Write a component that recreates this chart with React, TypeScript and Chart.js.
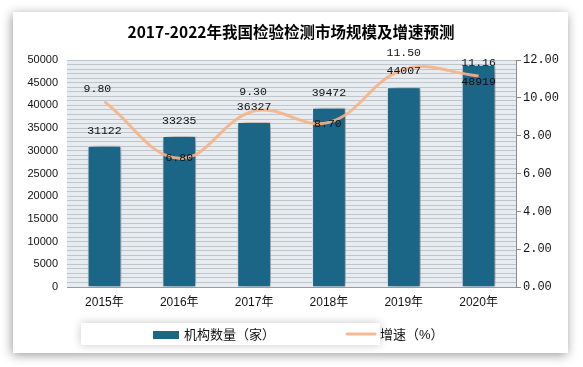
import React, { useEffect, useRef } from "react";
import { Chart, registerables } from "chart.js";

Chart.register(...registerables);

const title = "2017-2022年我国检验检测市场规模及增速预测";
const categories = ["2015年", "2016年", "2017年", "2018年", "2019年", "2020年"];
const institutions = [31122, 33235, 36327, 39472, 44007, 48919];
const growth = [9.8, 6.8, 9.3, 8.7, 11.5, 11.16];
const seriesNames = ["机构数量（家）", "增速（%）"];

// label placement (pixel offsets from the mark)
const barLabelDy = [-15, -15, -15, -15, -16, 17];
const lineLabelDy = [-13, 0, -19, 2, -17, -13];
const lineLabelDx = [-7, 0, -1, -1, 0, 0];

const BAR_COLOR = "#1b6587";
const LINE_COLOR = "rgba(246,178,134,0.9)";
const CJK = '"Liberation Sans", "Noto Sans CJK SC", sans-serif';
const MONO = '"Liberation Mono", "Noto Sans CJK SC", monospace';

const stripesPlugin = {
  id: "stripes",
  beforeDraw(chart: any) {
    const { ctx, chartArea: a } = chart;
    ctx.save();
    ctx.fillStyle = "#e7ecf1";
    ctx.fillRect(a.left, a.top, a.right - a.left, a.bottom - a.top);
    ctx.restore();
  },
};

const shadowPlugin = {
  id: "barShadow",
  beforeDatasetDraw(chart: any, args: any) {
    if (args.index !== 0) return;
    const ctx = chart.ctx;
    ctx.save();
    ctx.shadowColor = "rgba(0,0,0,0.55)";
    ctx.shadowBlur = 9;
    ctx.shadowOffsetX = 3;
    ctx.shadowOffsetY = 0;
  },
  afterDatasetDraw(chart: any, args: any) {
    if (args.index !== 0) return;
    chart.ctx.restore();
  },
};

const labelsPlugin = {
  id: "valueLabels",
  afterDatasetsDraw(chart: any) {
    const ctx = chart.ctx;
    ctx.save();
    ctx.font = `11.5px ${MONO}`;
    ctx.fillStyle = "#111";
    ctx.textAlign = "center";
    ctx.textBaseline = "middle";
    const bars = chart.getDatasetMeta(0).data;
    bars.forEach((el: any, i: number) => {
      ctx.fillText(String(institutions[i]), el.x, el.y + barLabelDy[i]);
    });
    const pts = chart.getDatasetMeta(1).data;
    pts.forEach((el: any, i: number) => {
      ctx.fillText(growth[i].toFixed(2), el.x + lineLabelDx[i], el.y + lineLabelDy[i]);
    });
    ctx.restore();
  },
};

const titleLegendPlugin = {
  id: "titleLegend",
  afterDraw(chart: any) {
    const ctx = chart.ctx;
    ctx.save();
    ctx.font = `bold 15.5px "Noto Sans CJK SC", sans-serif`;
    ctx.fillStyle = "#000";
    ctx.textAlign = "center";
    ctx.textBaseline = "middle";
    ctx.fillText(title, 291, 32);

    // legend box
    ctx.save();
    ctx.shadowColor = "rgba(0,0,0,0.22)";
    ctx.shadowBlur = 10;
    ctx.fillStyle = "#fff";
    ctx.fillRect(81, 323, 299, 22);
    ctx.restore();

    ctx.fillStyle = BAR_COLOR;
    ctx.fillRect(153, 331, 26, 8);
    ctx.strokeStyle = LINE_COLOR;
    ctx.lineWidth = 3;
    ctx.lineCap = "round";
    ctx.beginPath();
    ctx.moveTo(347, 334);
    ctx.lineTo(375, 334);
    ctx.stroke();

    ctx.font = `13px ${CJK}`;
    ctx.fillStyle = "#111";
    ctx.textAlign = "left";
    ctx.fillText(seriesNames[0], 184, 335);
    ctx.fillText(seriesNames[1], 380, 335);
    ctx.restore();
  },
};

export default function App() {
  const ref = useRef<HTMLCanvasElement | null>(null);
  useEffect(() => {
    if (!ref.current) return;
    const chart = new Chart(ref.current, {
      type: "bar",
      data: {
        labels: categories,
        datasets: [
          {
            type: "bar",
            label: seriesNames[0],
            data: institutions,
            backgroundColor: BAR_COLOR,
            borderColor: "#ffffff",
            borderWidth: 1,
            categoryPercentage: 1,
            barPercentage: 0.45,
            yAxisID: "y",
            order: 2,
          },
          {
            type: "line",
            label: seriesNames[1],
            data: growth,
            borderColor: LINE_COLOR,
            borderWidth: 3,
            tension: 0.4,
            pointRadius: 0,
            fill: false,
            yAxisID: "y1",
            order: 1,
          } as any,
        ],
      },
      options: {
        responsive: false,
        animation: false,
        devicePixelRatio: 1,
        layout: { padding: { top: 60, bottom: 50, left: 0, right: 0 } },
        plugins: {
          legend: { display: false },
          title: { display: false },
          tooltip: { enabled: false },
        },
        scales: {
          x: {
            grid: { display: false, drawTicks: false },
            border: { display: true, color: "#9a9a9a" },
            ticks: { padding: 8, color: "#111", font: { size: 12, family: CJK } },
            afterFit(s: any) {
              s.height = 30;
            },
          },
          y: {
            position: "left",
            min: 0,
            max: 50000,
            border: { display: false },
            grid: { color: "#bfc5cb", lineWidth: 1, drawTicks: false },
            ticks: {
              stepSize: 1000,
              autoSkip: false,
              padding: 9,
              color: "#111",
              font: { size: 11, family: CJK },
              callback: (v: any) => (Number(v) % 5000 === 0 ? String(v) : ""),
            },
            afterFit(s: any) {
              s.width = 67;
            },
          },
          y1: {
            position: "right",
            min: 0,
            max: 12,
            border: { display: true, color: "#8a8a8a" },
            grid: { drawOnChartArea: false, drawTicks: true, tickLength: 5, color: "#8a8a8a" },
            ticks: {
              stepSize: 2,
              padding: 2,
              color: "#111",
              font: { size: 12, family: MONO },
              callback: (v: any) => Number(v).toFixed(2),
            },
            afterFit(s: any) {
              s.width = 67;
            },
          },
        },
      } as any,
      plugins: [stripesPlugin, shadowPlugin, labelsPlugin, titleLegendPlugin],
    });
    return () => chart.destroy();
  }, []);

  return (
    <div style={{ position: "fixed", left: 0, top: 0, width: 583, height: 367, background: "#fff" }}>
      <div
        style={{
          position: "absolute",
          left: 13,
          top: 12,
          width: 555,
          height: 341,
          background: "#fff",
          boxShadow: "-1px 2px 10px rgba(0,0,0,0.4)",
        }}
      />
      <canvas
        ref={ref}
        width={583}
        height={367}
        style={{ position: "absolute", left: 0, top: 0, width: 583, height: 367 }}
      />
    </div>
  );
}
